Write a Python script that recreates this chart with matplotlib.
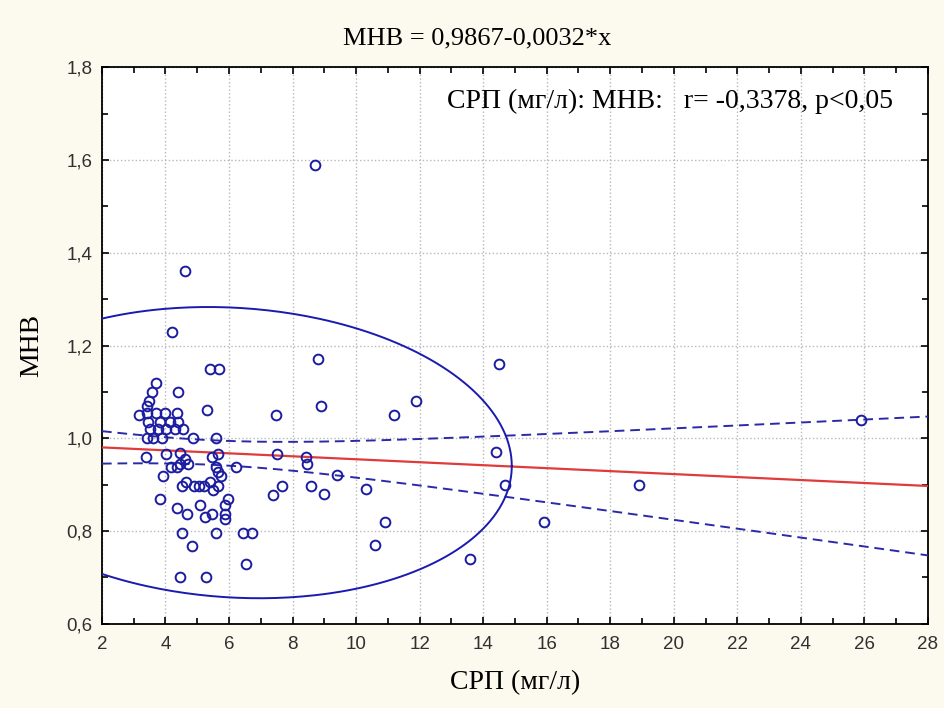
import numpy as np
import matplotlib
matplotlib.use("Agg")
import matplotlib.pyplot as plt
from matplotlib.ticker import MultipleLocator, FuncFormatter

# data (СРП, МНВ)
crp = [8.7, 4.6, 4.2, 8.8, 5.4, 5.7, 14.5,
       3.70, 4.38, 3.58, 3.48, 3.41, 5.3, 3.16, 3.41, 3.69, 4.0, 4.35,
       3.46, 3.82, 4.14, 4.40, 3.51, 3.77, 4.03, 4.30, 4.56,
       3.41, 3.61, 3.88, 4.87, 5.58,
       3.40, 4.03, 4.45, 5.64, 4.6, 4.45, 5.45, 4.16, 4.71, 4.36, 5.58, 6.21,
       5.66, 5.76, 3.93, 4.65, 4.9, 5.05, 4.52, 5.2, 5.4, 5.66, 5.5,
       3.82, 5.97, 5.87, 4.35, 5.10, 4.69, 5.47, 5.24, 5.88, 5.88,
       4.51, 5.58, 6.44, 6.71, 4.82, 6.52, 4.45, 5.29,
       7.47, 8.9, 11.2, 11.9, 14.4, 7.52, 8.42, 8.47, 9.4, 7.68, 8.59,
       7.39, 9.0, 10.3, 14.7, 10.9, 10.6, 13.6, 15.9, 18.9, 25.9]
mnv = [1.59, 1.36, 1.23, 1.17, 1.15, 1.15, 1.16,
       1.12, 1.10, 1.10, 1.08, 1.07, 1.06, 1.05, 1.055, 1.055, 1.055, 1.055,
       1.035, 1.035, 1.035, 1.035, 1.02, 1.02, 1.02, 1.02, 1.02,
       1.0, 1.0, 1.0, 1.0, 1.0,
       0.96, 0.965, 0.968, 0.967, 0.955, 0.945, 0.96, 0.938, 0.945, 0.938, 0.938, 0.938,
       0.927, 0.918, 0.918, 0.905, 0.898, 0.898, 0.898, 0.898, 0.905, 0.898, 0.889,
       0.869, 0.869, 0.855, 0.85, 0.857, 0.837, 0.837, 0.83, 0.837, 0.826,
       0.795, 0.795, 0.795, 0.795, 0.767, 0.728, 0.70, 0.70,
       1.05, 1.07, 1.05, 1.08, 0.97, 0.967, 0.96, 0.945, 0.92, 0.898, 0.898,
       0.878, 0.88, 0.89, 0.90, 0.82, 0.77, 0.74, 0.82, 0.90, 1.04]

# regression y = b0 + b1*x
b0, b1 = 0.9867, -0.0032
# confidence band: half width = sqrt(band_a + band_b*(x - band_xm)^2)
band_xm, band_a, band_b = 5.5, 0.0007, 4.29e-5
# 95% ellipse
ell_cx, ell_cy, ell_ax, ell_by, ell_rho = 6.15, 0.969, 8.75, 0.314, -0.092

serif = ["Liberation Serif", "DejaVu Serif"]
sans = ["Liberation Sans", "DejaVu Sans"]

fig = plt.figure(figsize=(9.44, 7.08), dpi=100, facecolor="#fcfaef")
ax = fig.add_axes([0.108, 0.119, 0.875, 0.786])
ax.set_facecolor("white")

blue = "#1c1ca0"
ax.plot(crp, mnv, "o", mfc="none", mec=blue, ms=7, mew=1.4, zorder=5)

xs = np.linspace(2, 28, 400)
fit = b0 + b1 * xs
half = np.sqrt(band_a + band_b * (xs - band_xm) ** 2)
ax.plot(xs, fit, color="#e03a3a", lw=1.6, zorder=4)
ax.plot(xs, fit + half, color="#2a2aa8", lw=1.4, ls=(0, (5, 3)), zorder=4)
ax.plot(xs, fit - half, color="#2a2aa8", lw=1.4, ls=(0, (5, 3)), zorder=4)

t = np.linspace(0, 2 * np.pi, 400)
ex = ell_cx + ell_ax * np.cos(t)
ey = ell_cy + ell_by * (ell_rho * np.cos(t) + np.sqrt(1 - ell_rho ** 2) * np.sin(t))
ax.plot(ex, ey, color="#1a1ab0", lw=1.4, zorder=4)

ax.set_xlim(2, 28)
ax.set_ylim(0.6, 1.8)
ax.xaxis.set_major_locator(MultipleLocator(2))
ax.xaxis.set_minor_locator(MultipleLocator(1))
ax.yaxis.set_major_locator(MultipleLocator(0.2))
ax.yaxis.set_minor_locator(MultipleLocator(0.1))
ax.yaxis.set_major_formatter(FuncFormatter(lambda v, p: f"{v:.1f}".replace(".", ",")))
ax.tick_params(which="both", direction="in", top=True, right=True, width=1.2,
               colors="black")
ax.tick_params(axis="x", pad=9)
ax.tick_params(axis="y", pad=7)
ax.tick_params(which="major", length=5)
ax.tick_params(which="minor", length=4)
for lab in ax.get_xticklabels() + ax.get_yticklabels():
    lab.set_family(sans)
    lab.set_fontsize(13.5)
    lab.set_color("#303030")
ax.grid(True, which="major", ls=":", color="#b8b8b8", lw=1)
for s in ax.spines.values():
    s.set_linewidth(1.3)
ax.set_axisbelow(True)

ax.set_xlabel("СРП (мг/л)", family=serif, fontsize=20, labelpad=12)
ax.set_ylabel("МНВ", family=serif, fontsize=20, labelpad=16)
fig.text(0.506, 0.946, "МНВ = 0,9867-0,0032*x", family=serif, fontsize=19,
         ha="center", va="center")
ax.text(0.958, 0.939, "СРП (мг/л): МНВ:   r= -0,3378, p<0,05", family=serif,
        fontsize=20, ha="right", va="center", transform=ax.transAxes)

fig.savefig("out.png", dpi=100, facecolor=fig.get_facecolor())
